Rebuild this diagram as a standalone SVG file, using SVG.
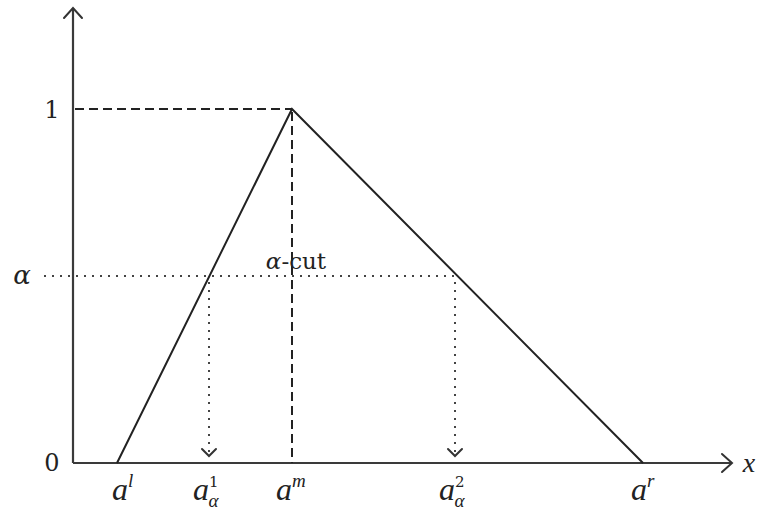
<svg xmlns="http://www.w3.org/2000/svg" width="764" height="513" viewBox="0 0 764 513">
<style>
.ax{stroke:#3a3a3a;stroke-width:2.2;fill:none}
.tri{stroke:#222;stroke-width:2;fill:none}
.dash{stroke:#222;stroke-width:2;stroke-dasharray:9,5;fill:none}
.dot{stroke:#444;stroke-width:2;stroke-dasharray:2,6;fill:none}
.hd{stroke:#333;stroke-width:2;fill:none;stroke-linecap:round}
.t{font-family:"DejaVu Serif","Liberation Serif",serif;fill:#222}
.i{font-style:italic;font-family:"Liberation Serif","DejaVu Serif",serif}
.u{font-style:normal;font-family:"DejaVu Serif",serif}
</style>
<rect width="764" height="513" fill="#fff"/>
<g id="axes">
<line class="ax" x1="73" y1="463" x2="73" y2="8"/>
<polyline class="hd" points="64,18 73,8 82,18"/>
<line class="ax" x1="73" y1="463" x2="731" y2="463"/>
<polyline class="hd" points="722,454 732,463 722,472"/>
</g>
<g id="connectors">
<line class="dash" x1="75" y1="109" x2="292" y2="109"/>
<line class="dash" x1="292" y1="112" x2="292" y2="463"/>
<line class="dot" x1="44" y1="276" x2="456" y2="276"/>
<line class="dot" x1="209" y1="282" x2="209" y2="452"/>
<polyline class="hd" points="202,449 209,456 216,449"/>
<line class="dot" x1="455" y1="282" x2="455" y2="452"/>
<polyline class="hd" points="448,449 455,456 462,449"/>
</g>
<g id="triangle">
<polyline class="tri" points="117,463 292,109 643,463"/>
</g>
<g id="labels">
<text class="t" x="52" y="118" font-size="24" text-anchor="middle">1</text>
<text class="t" x="52" y="471" font-size="24" text-anchor="middle">0</text>
<text class="t" x="22" y="284" font-size="26" font-style="italic" text-anchor="middle">α</text>
<text class="t" x="296" y="269" font-size="23" text-anchor="middle"><tspan font-style="italic">α</tspan>-cut</text>
<text class="t i" x="749" y="472" font-size="28" text-anchor="middle">x</text>
<text class="t i" x="112" y="500" font-size="32">a<tspan font-size="19" dy="-13">l</tspan></text>
<text class="t i" x="193" y="500" font-size="32">a<tspan class="u" font-size="15" dy="-13">1</tspan><tspan font-size="19" dx="-10" dy="20">α</tspan></text>
<text class="t i" x="276" y="500" font-size="32">a<tspan font-size="19" dy="-13">m</tspan></text>
<text class="t i" x="439" y="500" font-size="32">a<tspan class="u" font-size="15" dy="-13">2</tspan><tspan font-size="19" dx="-10" dy="20">α</tspan></text>
<text class="t i" x="631" y="500" font-size="32">a<tspan font-size="19" dy="-13">r</tspan></text>
</g>
</svg>
